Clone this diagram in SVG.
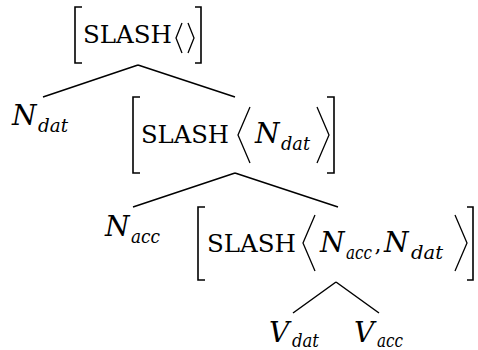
<svg xmlns="http://www.w3.org/2000/svg" width="478" height="350" viewBox="0 0 478 350">
  <style>
    .sc { font-family: "DejaVu Serif", serif; font-size: 24.5px; fill: #000; }
    .it { font-family: "DejaVu Serif", serif; font-style: italic; font-size: 28px; fill: #000; }
    .sub { font-family: "DejaVu Serif", serif; font-style: italic; font-size: 18.5px; fill: #000; }
    .rm { font-family: "DejaVu Serif", serif; font-size: 22px; fill: #000; }
    .brk { fill: none; stroke: #000; stroke-width: 1.6; stroke-linecap: butt; stroke-linejoin: miter; }
    .ang { fill: none; stroke: #000; stroke-width: 1.3; stroke-linejoin: miter; }
    .edge { fill: none; stroke: #000; stroke-width: 1.5; }
  </style>
  <rect width="478" height="350" fill="#fff"/>

  <!-- tree branches -->
  <g id="connectors">
    <path class="edge" d="M138 65 L43 97 M138 65 L235 97"/>
    <path class="edge" d="M235 173 L133 207 M235 173 L338 207"/>
    <path class="edge" d="M336 282 L293 313 M336 282 L379 313"/>
  </g>

  <!-- root: [SLASH < >] -->
  <g id="root">
    <path class="brk" d="M82 7 H75 V63 H82"/>
    <text class="sc" x="83" y="43" textLength="89" lengthAdjust="spacingAndGlyphs">SLASH</text>
    <polyline class="ang" points="182,23 176,38 182,53"/>
    <polyline class="ang" points="188,23 194,38 188,53"/>
    <path class="brk" d="M195 7 H201 V63 H195"/>
  </g>

  <!-- leaf N_dat -->
  <g id="n-dat">
    <text class="it" x="12" y="125">N</text>
    <text class="sub" x="38" y="132" textLength="30" lengthAdjust="spacingAndGlyphs">dat</text>
  </g>

  <!-- [SLASH <N_dat>] -->
  <g id="slash-ndat">
    <path class="brk" d="M140 97 H133 V173 H140"/>
    <text class="sc" x="141" y="143" textLength="88" lengthAdjust="spacingAndGlyphs">SLASH</text>
    <polyline class="ang" points="250,107 238,135 250,163"/>
    <text class="it" x="255" y="143">N</text>
    <text class="sub" x="281" y="150" textLength="29" lengthAdjust="spacingAndGlyphs">dat</text>
    <polyline class="ang" points="317,107 329,135 317,163"/>
    <path class="brk" d="M327 97 H334 V173 H327"/>
  </g>

  <!-- leaf N_acc -->
  <g id="n-acc">
    <text class="it" x="105" y="236">N</text>
    <text class="sub" x="131" y="243" textLength="29" lengthAdjust="spacingAndGlyphs">acc</text>
  </g>

  <!-- [SLASH <N_acc, N_dat>] -->
  <g id="slash-nacc-ndat">
    <path class="brk" d="M205 207 H198 V280 H205"/>
    <text class="sc" x="207" y="252" textLength="89" lengthAdjust="spacingAndGlyphs">SLASH</text>
    <polyline class="ang" points="315,215 303,243 315,271"/>
    <text class="it" x="320" y="252">N</text>
    <text class="sub" x="346" y="259" textLength="26" lengthAdjust="spacingAndGlyphs">acc</text>
    <text class="rm" x="374.5" y="252">,</text>
    <text class="it" x="384" y="252">N</text>
    <text class="sub" x="411" y="259" textLength="32" lengthAdjust="spacingAndGlyphs">dat</text>
    <polyline class="ang" points="455,215 467,243 455,271"/>
    <path class="brk" d="M467 207 H473 V280 H467"/>
  </g>

  <!-- leaf V_dat -->
  <g id="v-dat">
    <text class="it" x="269" y="342">V</text>
    <text class="sub" x="292" y="347" textLength="27" lengthAdjust="spacingAndGlyphs">dat</text>
  </g>

  <!-- leaf V_acc -->
  <g id="v-acc">
    <text class="it" x="354" y="342">V</text>
    <text class="sub" x="377" y="347" textLength="26" lengthAdjust="spacingAndGlyphs">acc</text>
  </g>
</svg>
